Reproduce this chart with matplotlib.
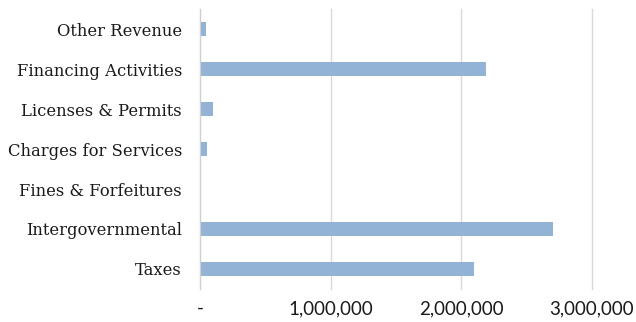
import matplotlib.pyplot as plt
from matplotlib.ticker import FuncFormatter

# Revenue by source (bottom to top)
categories = ['Taxes', 'Intergovernmental', 'Fines & Forfeitures',
              'Charges for Services', 'Licenses & Permits',
              'Financing Activities', 'Other Revenue']
amounts = [2095000, 2700000, 0, 56000, 97000, 2190000, 46000]
x_ticks = [0, 1000000, 2000000, 3000000]

fig = plt.figure(figsize=(6.36, 3.22), dpi=100)
ax = fig.add_axes([0.3145, 0.1025, 0.616, 0.8695])

ax.barh(range(len(categories)), amounts, height=0.35, color='#93b3d6')

ax.set_xlim(0, 3000000)
ax.set_ylim(-0.5, len(categories) - 0.5)
ax.set_xticks(x_ticks)
ax.xaxis.set_major_formatter(
    FuncFormatter(lambda v, _: '-' if v == 0 else f'{v:,.0f}'))
ax.set_yticks(range(len(categories)))
ax.set_yticklabels(categories, fontfamily='DejaVu Serif', fontsize=11.8,
                   color='#1a1a1a')

for lbl in ax.get_xticklabels():
    lbl.set_fontfamily('Lato')
    lbl.set_fontsize(13.5)
    lbl.set_color('#1a1a1a')

ax.tick_params(axis='y', length=0, pad=13)
ax.tick_params(axis='x', length=0, pad=8)

ax.grid(axis='x', color='#d9d9d9', linewidth=1)
for line in ax.get_xgridlines():
    line.set_clip_on(False)
ax.set_axisbelow(True)
for side in ['top', 'right', 'bottom']:
    ax.spines[side].set_visible(False)
ax.spines['left'].set_color('#d0d0d0')

fig.savefig('out.png', dpi=100)
